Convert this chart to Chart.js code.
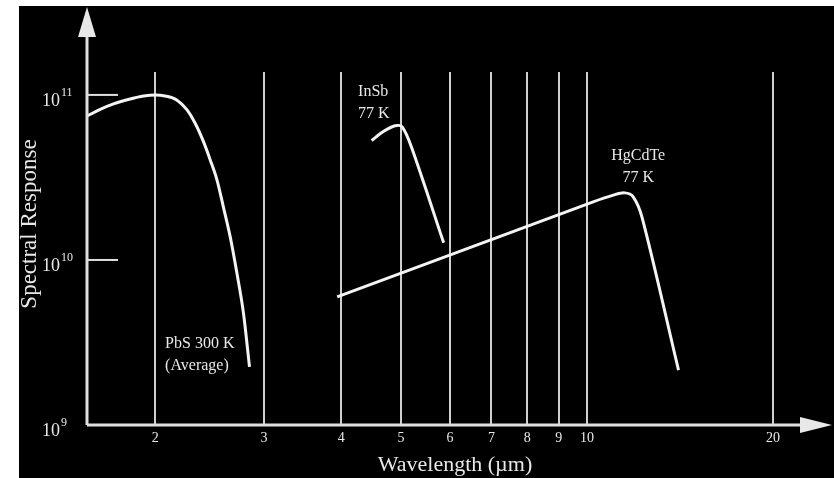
<!DOCTYPE html>
<html>
<head>
<meta charset="utf-8">
<script src="https://cdn.jsdelivr.net/npm/chart.js@4.4.1/dist/chart.umd.min.js"></script>
<style>
  html, body { margin: 0; padding: 0; background: #fff; }
  #box { position: absolute; left: 19px; top: 6px; width: 815px; height: 472px; background: #000; }
</style>
</head>
<body>
<div id="box"><canvas id="chart"></canvas></div>
<script>
// wavelength grid lines (µm) and response decades
const xTicks = [2, 3, 4, 5, 6, 7, 8, 9, 10, 20];
const yTicks = [1e9, 1e10, 1e11];
const yTickExp = ["9", "10", "11"];

// PbS 300 K (average)
const pbsX = [1.552, 1.629, 1.712, 1.822, 1.915, 2.0, 2.075, 2.167, 2.252, 2.321, 2.394,
              2.455, 2.518, 2.578, 2.645, 2.712, 2.779, 2.842];
const pbsY = [7.46e10, 8.17e10, 8.82e10, 9.45e10, 9.85e10, 1.0e11, 9.86e10, 9.33e10, 8.11e10, 6.74e10, 5.21e10,
              4.04e10, 3.05e10, 2.10e10, 1.38e10, 8.3e9, 4.75e9, 2.25e9];

// InSb 77 K
const insbX = [4.48, 4.68, 4.89, 5.02, 5.2, 5.86];
const insbY = [5.3e10, 6.0e10, 6.5e10, 6.4e10, 4.8e10, 1.27e10];

// HgCdTe 77 K
const hgX = [3.94, 10.23, 11.06, 11.5, 11.86, 12.28, 14.06];
const hgY = [5.97e9, 2.25e10, 2.48e10, 2.55e10, 2.43e10, 1.8e10, 2.15e9];

// text labels next to the curves (data coordinates)
const notes = [
  { text: "InSb", x: 4.26, y: 1.04e11, align: "left" },
  { text: "77 K", x: 4.26, y: 7.7e10, align: "left" },
  { text: "HgCdTe", x: 12.1, y: 4.27e10, align: "center" },
  { text: "77 K", x: 12.1, y: 3.14e10, align: "center" },
  { text: "PbS 300 K", x: 2.075, y: 3.1e9, align: "left" },
  { text: "(Average)", x: 2.075, y: 2.28e9, align: "left" }
];

const ink = "#e8e8e8";
const serif = "'Liberation Serif', 'DejaVu Serif', serif";

function pts(xs, ys) {
  return xs.map((x, i) => ({ x: x, y: ys[i] }));
}

function curve(xs, ys, tension, mode) {
  return {
    data: pts(xs, ys),
    borderColor: "#f4f4f4",
    borderWidth: 3,
    pointRadius: 0,
    tension: tension,
    cubicInterpolationMode: mode,
    fill: false
  };
}

const decor = {
  id: "decor",
  afterDraw(chart) {
    const ctx = chart.ctx;
    const a = chart.chartArea;
    const ys = chart.scales.y;
    ctx.save();
    ctx.strokeStyle = "#e0e0e0";
    ctx.fillStyle = "#e8e8e8";
    ctx.lineWidth = 3;
    // y axis with arrow
    ctx.beginPath();
    ctx.moveTo(a.left, a.bottom);
    ctx.lineTo(a.left, 30);
    ctx.stroke();
    ctx.beginPath();
    ctx.moveTo(a.left, 1);
    ctx.lineTo(a.left - 9, 31);
    ctx.lineTo(a.left + 9, 31);
    ctx.closePath();
    ctx.fill();
    // x axis with arrow
    ctx.beginPath();
    ctx.moveTo(a.left, a.bottom);
    ctx.lineTo(783, a.bottom);
    ctx.stroke();
    ctx.beginPath();
    ctx.moveTo(813, a.bottom);
    ctx.lineTo(781, a.bottom - 8);
    ctx.lineTo(781, a.bottom + 8);
    ctx.closePath();
    ctx.fill();
    // short decade marks
    ctx.lineWidth = 2;
    yTicks.slice(1).forEach(v => {
      const py = ys.getPixelForValue(v);
      ctx.beginPath();
      ctx.moveTo(a.left, py);
      ctx.lineTo(a.left + 31, py);
      ctx.stroke();
    });
    // decade labels 10^n
    ctx.fillStyle = ink;
    ctx.textAlign = "left";
    ctx.textBaseline = "middle";
    yTicks.forEach((v, i) => {
      const py = ys.getPixelForValue(v) + 6;
      ctx.font = "18px " + serif;
      ctx.fillText("10", 23, py);
      const w = ctx.measureText("10").width;
      ctx.font = "12px " + serif;
      ctx.fillText(yTickExp[i], 23 + w + 1, py - 8);
    });
    // y title
    ctx.save();
    ctx.translate(11, 218);
    ctx.rotate(-Math.PI / 2);
    ctx.textAlign = "center";
    ctx.font = "23px " + serif;
    ctx.fillText("Spectral Response", 0, 0);
    ctx.restore();
    // curve labels
    ctx.font = "16px " + serif;
    notes.forEach(n => {
      ctx.textAlign = n.align;
      ctx.fillText(n.text, chart.scales.x.getPixelForValue(n.x), ys.getPixelForValue(n.y));
    });
    ctx.restore();
  }
};

new Chart(document.getElementById("chart"), {
  type: "line",
  data: {
    datasets: [
      curve(pbsX, pbsY, 0.4, "monotone"),
      curve(insbX, insbY, 0.3, "default"),
      curve(hgX, hgY, 0.3, "default")
    ]
  },
  options: {
    responsive: true,
    maintainAspectRatio: false,
    animation: false,
    layout: { padding: { top: 66, right: 11, bottom: 0, left: 0 } },
    plugins: { legend: { display: false }, tooltip: { enabled: false } },
    scales: {
      x: {
        type: "logarithmic",
        min: 1.551,
        max: 24.09,
        afterBuildTicks: s => { s.ticks = xTicks.map(v => ({ value: v })); },
        afterFit: s => { s.height = 53; },
        grid: { color: "#cfcfcf", lineWidth: 2, drawTicks: false },
        border: { display: false },
        ticks: {
          autoSkip: false,
          maxRotation: 0,
          padding: 5,
          color: ink,
          font: { family: serif, size: 14 },
          callback: v => String(v)
        },
        title: {
          display: true,
          text: "Wavelength (\u00b5m)",
          color: ink,
          font: { family: serif, size: 22 },
          padding: 0
        }
      },
      y: {
        type: "logarithmic",
        min: 1e9,
        max: 1.377e11,
        afterFit: s => { s.width = 68; },
        grid: { display: false },
        border: { display: false },
        ticks: { display: false }
      }
    }
  },
  plugins: [decor]
});
</script>
</body>
</html>
